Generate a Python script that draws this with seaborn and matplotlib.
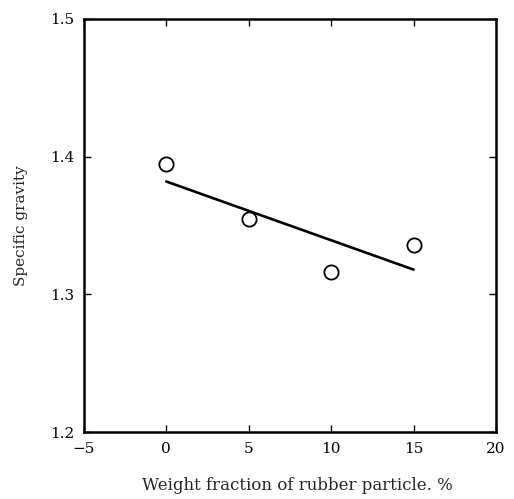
import numpy as np
import pandas as pd
import matplotlib.pyplot as plt
import seaborn as sns

sns.set_theme(style="ticks")
plt.rcParams["font.family"] = ["DejaVu Serif"]

# measured points
weight_frac = [0, 5, 10, 15]
spec_grav = [1.395, 1.355, 1.316, 1.336]

# fitted line end points
fit_x = [0, 15]
fit_y = [1.382, 1.318]

pts = pd.DataFrame({"w": weight_frac, "sg": spec_grav})
fit = pd.DataFrame({"w": fit_x, "sg": fit_y})

fig = plt.figure(figsize=(5.14, 4.99), dpi=100)
ax = fig.add_axes([0.163, 0.134, 0.802, 0.828])

sns.lineplot(data=fit, x="w", y="sg", ax=ax, color="black", linewidth=1.9)
sns.scatterplot(data=pts, x="w", y="sg", ax=ax, s=105, facecolor="white",
                edgecolor="black", linewidth=1.3, zorder=3)

ax.set_xlim(-5, 20)
ax.set_ylim(1.2, 1.5)
ax.set_xticks([-5, 0, 5, 10, 15, 20])
ax.set_yticks([1.2, 1.3, 1.4, 1.5])
ax.set_xticklabels(["\u22125", "0", "5", "10", "15", "20"])
ax.set_yticklabels(["1.2", "1.3", "1.4", "1.5"])
ax.tick_params(direction="in", length=5, width=1, top=True, right=True,
               labelsize=11, colors="black", pad=7)
for sp in ax.spines.values():
    sp.set_linewidth(1.8)
    sp.set_color("black")

ax.set_xlabel("Weight fraction of rubber particle. %", fontsize=12, labelpad=15)
ax.set_ylabel("Specific gravity", fontsize=11, labelpad=16)
ax.xaxis.set_label_coords(0.517, -0.108)

plt.savefig("out.png", dpi=100)
